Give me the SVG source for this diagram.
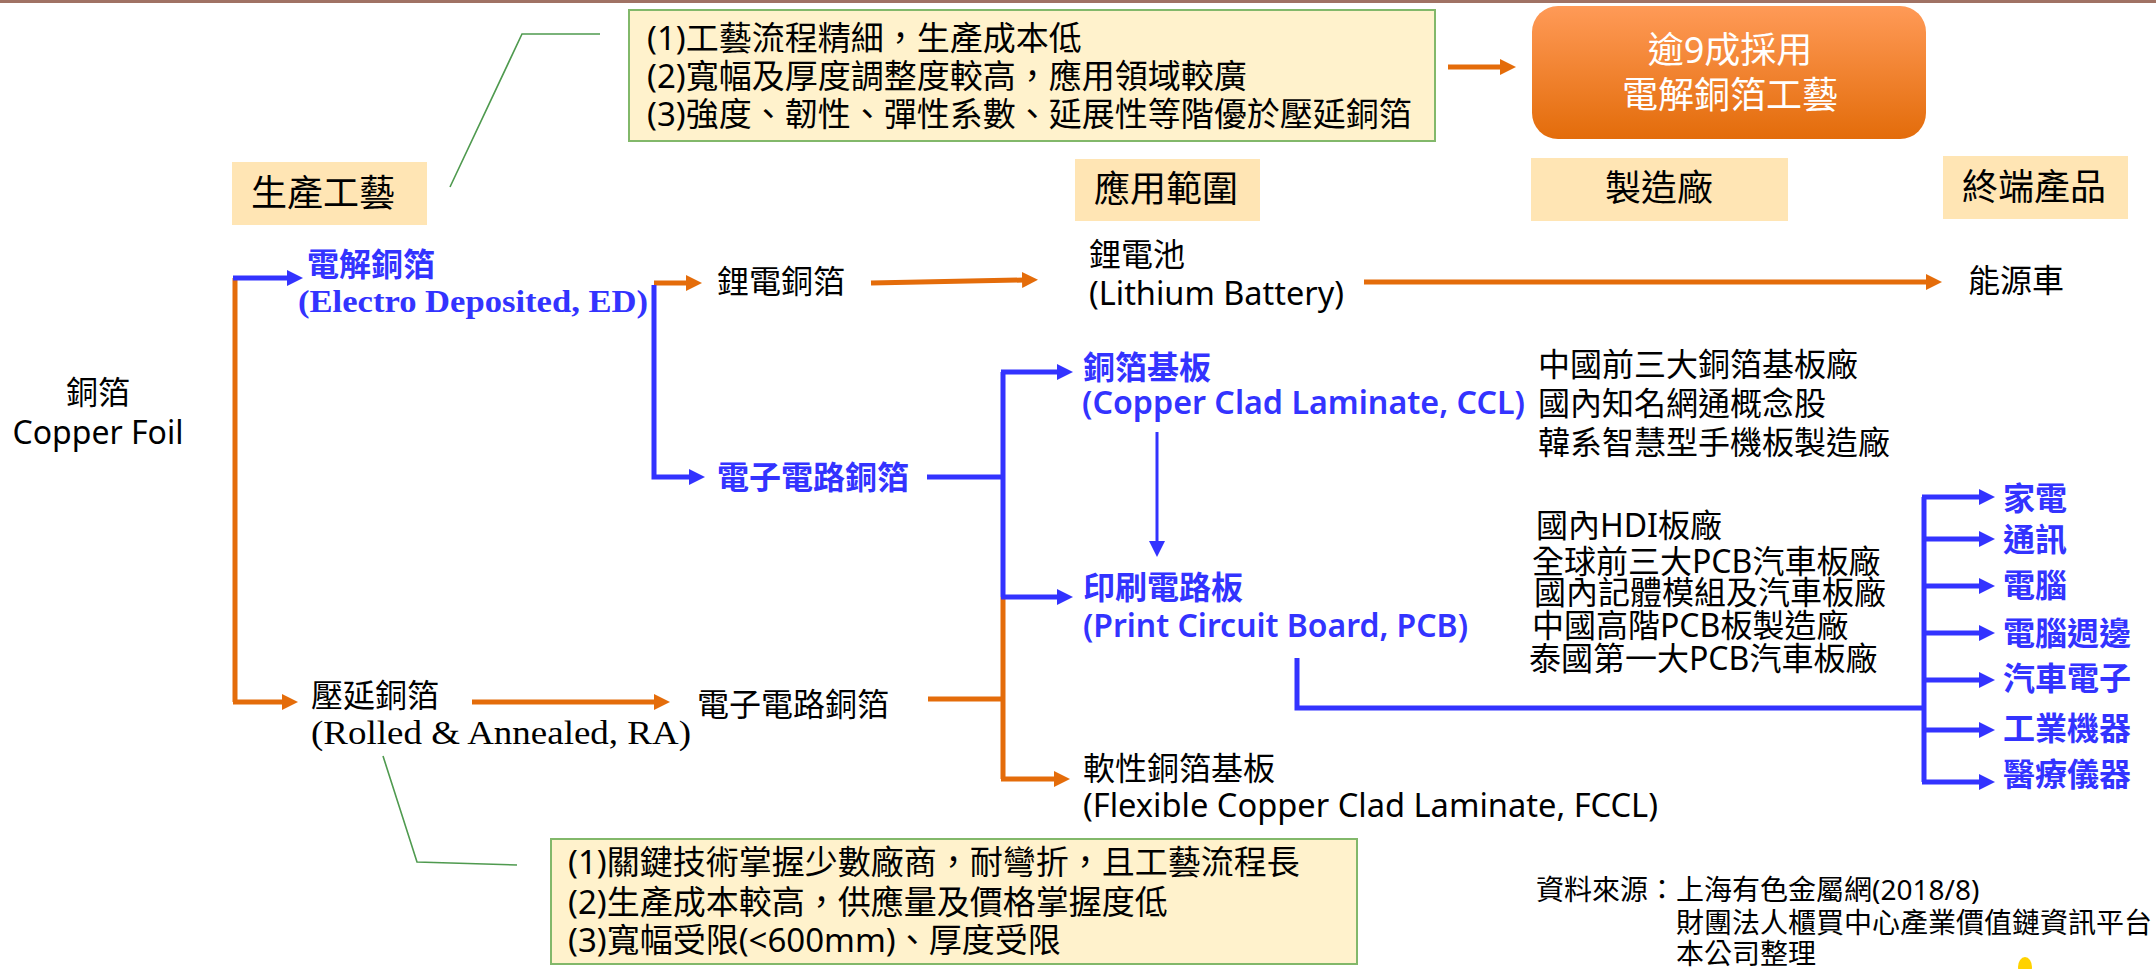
<svg xmlns="http://www.w3.org/2000/svg" width="2156" height="969" viewBox="0 0 2156 969">
<style>
.t{font-family:"Noto Sans","Noto Sans CJK TC",sans-serif;font-size:32px;fill:#000}
.h{font-size:36px}
.bt{fill:#3333ff;font-weight:700}
.sb{fill:#3333ff;font-weight:600}
.sf{font-family:"Liberation Serif","Noto Serif CJK TC","Noto Sans CJK TC",serif}
.sm{font-size:28px}
.bx{font-size:33px}
.o{stroke:#e46c0a;stroke-width:5;fill:none}
.ob{stroke:#e46c0a;stroke-width:5;fill:none;marker-end:url(#ao)}
.bl{stroke:#3333ff;stroke-width:5;fill:none}
.bb{stroke:#3333ff;stroke-width:5;fill:none;marker-end:url(#ab)}
.g{stroke:#4f9a4f;stroke-width:1.6;fill:none}
.lab{fill:#ffe5b4}
.note{fill:#fff2cc;stroke:#82b86a;stroke-width:2}
</style>
<defs>
<marker id="ao" markerUnits="userSpaceOnUse" markerWidth="16" markerHeight="16" viewBox="0 0 16 16" refX="2" refY="8" orient="auto"><path d="M0,0 L16,8 L0,16 z" fill="#e46c0a"/></marker>
<marker id="ab" markerUnits="userSpaceOnUse" markerWidth="16" markerHeight="16" viewBox="0 0 16 16" refX="2" refY="8" orient="auto"><path d="M0,0 L16,8 L0,16 z" fill="#3333ff"/></marker>
<linearGradient id="og" x1="0" y1="0" x2="0" y2="1"><stop offset="0" stop-color="#ff9a57"/><stop offset="1" stop-color="#e36c0a"/></linearGradient>
</defs>
<rect x="0" y="0" width="2156" height="3" fill="#a07264"/>

<g id="connectors">
<path class="o" d="M235,278 V702"/>
<path class="ob" d="M233,702 H284"/>
<path class="bb" d="M233,278 H289"/>
<path class="ob" d="M654,283 H688"/>
<path class="bb" d="M654,285 V477 H691"/>
<path class="ob" d="M871,283 L1024,280"/>
<path class="ob" d="M1364,282 H1928"/>
<path class="ob" d="M1448,67 H1502"/>
<path class="o" d="M928,699 H1003"/>
<path class="o" d="M1003,597 V779"/>
<path class="ob" d="M1001,779 H1056"/>
<path class="ob" d="M472,702 H656"/>
<path class="bl" d="M927,477 H1003"/>
<path class="bl" d="M1003,372 V597"/>
<path class="bb" d="M1001,372 H1059"/>
<path class="bb" d="M1001,597 H1059"/>
<path d="M1157,432 V543" stroke="#3333ff" stroke-width="3" fill="none" marker-end="url(#ab)"/>
<path class="bl" d="M1297,658 V708 H1924"/>
<path class="bl" d="M1924,497 V782"/>
<path class="bb" d="M1922,497 H1981"/>
<path class="bb" d="M1922,539 H1981"/>
<path class="bb" d="M1922,586 H1981"/>
<path class="bb" d="M1922,633 H1981"/>
<path class="bb" d="M1922,680 H1981"/>
<path class="bb" d="M1922,730 H1981"/>
<path class="bb" d="M1922,782 H1981"/>
<path class="g" d="M600,34 H522 L450,187"/>
<path class="g" d="M383,756 L417,862 L517,865"/>
</g>

<g id="note-ed">
<rect class="note" x="629" y="10" width="806" height="131"/>
<text class="t bx" x="647" y="50">(1)工藝流程精細，生產成本低</text>
<text class="t bx" x="647" y="88">(2)寬幅及厚度調整度較高，應用領域較廣</text>
<text class="t bx" x="647" y="126">(3)強度、韌性、彈性系數、延展性等階優於壓延銅箔</text>
</g>
<g id="highlight">
<rect x="1532" y="6" width="394" height="133" rx="26" fill="url(#og)"/>
<text class="t h" x="1730" y="63" text-anchor="middle" style="fill:#fff">逾9成採用</text>
<text class="t h" x="1730" y="108" text-anchor="middle" style="fill:#fff">電解銅箔工藝</text>
</g>
<g id="hdr-process"><rect class="lab" x="232" y="162" width="195" height="63"/><text class="t h" x="251" y="206">生產工藝</text></g>
<g id="hdr-app"><rect class="lab" x="1075" y="159" width="185" height="62"/><text class="t h" x="1094" y="202">應用範圍</text></g>
<g id="hdr-maker"><rect class="lab" x="1531" y="158" width="257" height="63"/><text class="t h" x="1605" y="201">製造廠</text></g>
<g id="hdr-end"><rect class="lab" x="1943" y="156" width="185" height="63"/><text class="t h" x="1962" y="200">終端產品</text></g>

<g id="copper-foil">
<text class="t" x="98" y="404" text-anchor="middle">銅箔</text>
<text class="t" x="98" y="444" text-anchor="middle">Copper Foil</text>
</g>
<g id="ed">
<text class="t bt" x="307" y="276">電解銅箔</text>
<text class="t sf" x="298" y="312" style="fill:#3333ff;font-size:32px;font-weight:700" textLength="350" lengthAdjust="spacingAndGlyphs">(Electro Deposited, ED)</text>
</g>
<g id="li-foil"><text class="t" x="717" y="293">鋰電銅箔</text></g>
<g id="li-battery">
<text class="t" x="1089" y="266">鋰電池</text>
<text class="t" x="1089" y="305" textLength="255" lengthAdjust="spacingAndGlyphs">(Lithium Battery)</text>
</g>
<g id="ev"><text class="t" x="1968" y="292">能源車</text></g>
<g id="ed-circuit"><text class="t bt" x="717" y="489">電子電路銅箔</text></g>
<g id="ccl">
<text class="t bt" x="1083" y="379">銅箔基板</text>
<text class="t sb" x="1082" y="414" textLength="443" lengthAdjust="spacingAndGlyphs">(Copper Clad Laminate, CCL)</text>
</g>
<g id="pcb">
<text class="t bt" x="1083" y="599">印刷電路板</text>
<text class="t sb" x="1083" y="637" textLength="385" lengthAdjust="spacingAndGlyphs">(Print Circuit Board, PCB)</text>
</g>
<g id="ccl-makers">
<text class="t" x="1538" y="376">中國前三大銅箔基板廠</text>
<text class="t" x="1538" y="415">國內知名網通概念股</text>
<text class="t" x="1538" y="454">韓系智慧型手機板製造廠</text>
</g>
<g id="pcb-makers">
<text class="t" x="1536" y="537">國內HDI板廠</text>
<text class="t" x="1532" y="573">全球前三大PCB汽車板廠</text>
<text class="t" x="1534" y="604">國內記體模組及汽車板廠</text>
<text class="t" x="1532" y="637">中國高階PCB板製造廠</text>
<text class="t" x="1529" y="670">泰國第一大PCB汽車板廠</text>
</g>
<g id="end-products">
<text class="t bt" x="2003" y="510">家電</text>
<text class="t bt" x="2003" y="551">通訊</text>
<text class="t bt" x="2003" y="597">電腦</text>
<text class="t bt" x="2003" y="645">電腦週邊</text>
<text class="t bt" x="2003" y="690">汽車電子</text>
<text class="t bt" x="2003" y="740">工業機器</text>
<text class="t bt" x="2003" y="786">醫療儀器</text>
</g>
<g id="ra">
<text class="t" x="311" y="707">壓延銅箔</text>
<text class="t sf" x="311" y="744" style="font-size:33px" textLength="380" lengthAdjust="spacingAndGlyphs">(Rolled &amp; Annealed, RA)</text>
</g>
<g id="ra-circuit"><text class="t" x="697" y="716">電子電路銅箔</text></g>
<g id="fccl">
<text class="t" x="1083" y="780">軟性銅箔基板</text>
<text class="t" x="1083" y="817" textLength="575" lengthAdjust="spacingAndGlyphs">(Flexible Copper Clad Laminate, FCCL)</text>
</g>
<g id="note-ra">
<rect class="note" x="551" y="839" width="806" height="125"/>
<text class="t bx" x="568" y="874">(1)關鍵技術掌握少數廠商，耐彎折，且工藝流程長</text>
<text class="t bx" x="568" y="914">(2)生產成本較高，供應量及價格掌握度低</text>
<text class="t bx" x="568" y="952">(3)寬幅受限(&lt;600mm)、厚度受限</text>
</g>
<g id="source">
<text class="t sm" x="1536" y="900">資料來源：上海有色金屬網(2018/8)</text>
<text class="t sm" x="1676" y="933">財團法人櫃買中心產業價值鏈資訊平台</text>
<text class="t sm" x="1676" y="964">本公司整理</text>
</g>
<ellipse cx="2025" cy="967" rx="7" ry="10" fill="#ffd200"/>
</svg>
